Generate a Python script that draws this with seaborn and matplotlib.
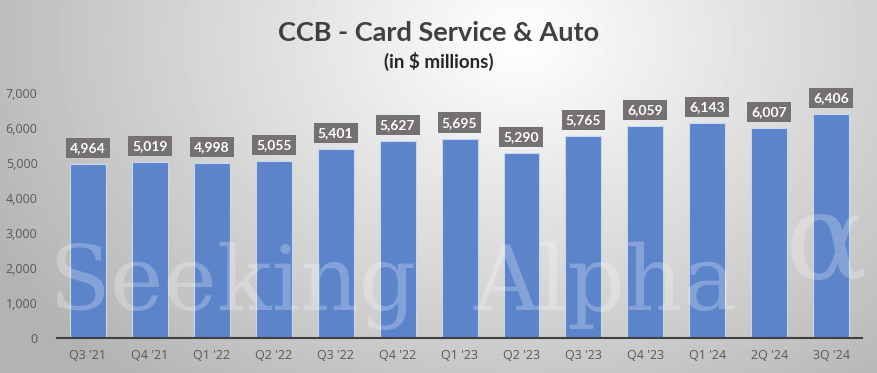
import numpy as np
import pandas as pd
import matplotlib.pyplot as plt
import seaborn as sns

quarters = ["Q3 '21", "Q4 '21", "Q1 '22", "Q2 '22", "Q3 '22", "Q4 '22", "Q1 '23",
            "Q2 '23", "Q3 '23", "Q4 '23", "Q1 '24", "2Q '24", "3Q '24"]
revenue = [4964, 5019, 4998, 5055, 5401, 5627, 5695, 5290, 5765, 6059, 6143, 6007, 6406]
yticks = [0, 1000, 2000, 3000, 4000, 5000, 6000, 7000]

df = pd.DataFrame({'quarter': quarters, 'revenue': revenue})

sns.set_style('white')
plt.rcParams['font.family'] = ['Lato', 'DejaVu Sans']

fig = plt.figure(figsize=(8.77, 3.73), dpi=100)

# radial grey background
bg = fig.add_axes([0, 0, 1, 1], zorder=-10)
xx, yy = np.meshgrid(np.arange(877), np.arange(373))
dist = np.sqrt(((xx - 520) / 1.0) ** 2 + ((yy - 40) * 1.3) ** 2)
shade = 1.0 - np.clip(dist / 600, 0, 1) * 0.3
bg.imshow(shade, cmap='gray', vmin=0, vmax=1, aspect='auto', interpolation='bilinear')
bg.axis('off')

ax = fig.add_axes([0.065, 0.0938, 0.918, 0.657])
ax.patch.set_alpha(0)
sns.barplot(data=df, x='quarter', y='revenue', color='#5B84CB', saturation=1,
            width=0.58, edgecolor='#c9d7ee', linewidth=0.8, ax=ax, zorder=2)

for i, v in enumerate(revenue):
    ax.annotate(f'{v:,}', xy=(i, v), xytext=(0, 11.5), textcoords='offset points',
                ha='center', va='center', fontsize=10, fontweight='bold', color='white',
                bbox=dict(boxstyle='square,pad=0.3', facecolor='#767171', edgecolor='none'),
                zorder=5)

ax.set_ylim(0, 7000)
ax.set_xlim(-0.5, len(quarters) - 0.5)
ax.set_yticks(yticks)
ax.set_yticklabels([f'{t:,}' for t in yticks], family='Open Sans', fontsize=9, color='#595959')
ax.set_xticks(range(len(quarters)))
ax.set_xticklabels(quarters, family='Open Sans', fontsize=9, color='#595959')
ax.tick_params(axis='both', length=0, pad=8)
ax.tick_params(axis='y', pad=14)
ax.set_xlabel('')
ax.set_ylabel('')
for s in ['top', 'right', 'left']:
    ax.spines[s].set_visible(False)
ax.spines['bottom'].set_color('#404040')
ax.spines['bottom'].set_linewidth(1.5)
ax.spines['bottom'].set_zorder(6)

# watermark
wm = dict(family='DejaVu Serif', color='white', alpha=0.25, ha='left',
          va='baseline', zorder=20)
fig.text(0.055, 0.17, 'Seeking', fontsize=65, **wm)
fig.text(0.54, 0.17, 'Alpha', fontsize=65, **wm)
fig.text(0.895, 0.25, '\u03b1', fontsize=88, **wm)

fig.text(0.5, 0.911, 'CCB - Card Service & Auto', ha='center', va='center',
         fontsize=19.5, fontweight='bold', color='#404040')
fig.text(0.5, 0.834, '(in $ millions)', ha='center', va='center',
         fontsize=13.5, fontweight='bold', color='#262626')

fig.savefig('out.png', dpi=100)
